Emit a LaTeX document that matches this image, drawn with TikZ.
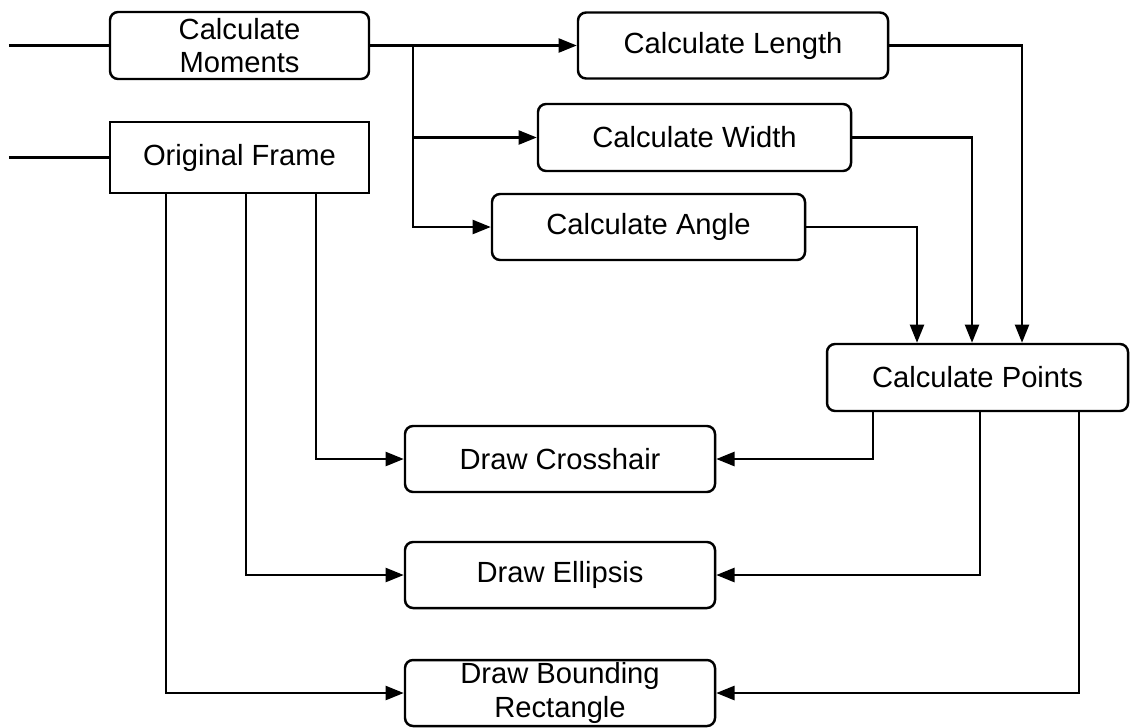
\documentclass[tikz,border=0pt]{standalone}
\usepackage{fontspec}
\setmainfont{Liberation Sans}
\usepackage{tikz}
\usetikzlibrary{positioning, shapes, arrows.meta, calc}

\tikzset{
  procbox/.style={draw, rounded corners=2.3pt, line width=0.7pt, inner sep=0pt,
    minimum width=3.1cm, minimum height=0.66cm, align=center,
    font=\fontsize{8.3pt}{9.6pt}\selectfont},
  flow/.style={line width=0.7pt, -{Triangle[length=5.2pt, width=4pt]}},
  plain/.style={line width=0.7pt}
}

\begin{document}
\begin{tikzpicture}
  \useasboundingbox (0,0) rectangle (11.3,-7.27);
  % Inputs
  \node[procbox, minimum width=2.59cm, minimum height=0.67cm] (moments) at (2.395,-0.455) {Calculate\\Moments};
  \node[procbox, rounded corners=0pt, minimum width=2.59cm, minimum height=0.71cm] (frame) at (2.395,-1.575) {Original Frame};
  \coordinate (inA) at (0.09,-0.455);
  \coordinate (inB) at (0.09,-1.575);
  % Measurements
  \node[procbox] (length) at (7.33,-0.455) {Calculate Length};
  \node[procbox, minimum width=3.13cm, minimum height=0.67cm] (width) at (6.945,-1.375) {Calculate Width};
  \node[procbox, minimum width=3.13cm] (angle) at (6.485,-2.27) {Calculate Angle};
  \node[procbox, minimum width=3.01cm, minimum height=0.67cm] (points) at (9.775,-3.775) {Calculate Points};
  % Drawing steps
  \node[procbox] (cross) at (5.60,-4.59) {Draw Crosshair};
  \node[procbox] (ellipse) at (5.60,-5.75) {Draw Ellipsis};
  \node[procbox] (bound) at (5.60,-6.93) {Draw Bounding\\Rectangle};

  % Input lines
  \draw[plain] (inA) -- (moments);
  \draw[plain] (inB) -- (frame);
  % Moments to measurements
  \coordinate (split) at (4.13,-0.455);
  \draw[flow] (moments.east) -- (length.west);
  \draw[flow] (split) |- (width.west);
  \draw[flow] (split) |- (angle.west);
  % Measurements to points
  \draw[flow] (length.east) -| ([xshift=0.445cm]points.north);
  \draw[flow] (width.east) -| ([xshift=-0.055cm]points.north);
  \draw[flow] (angle.east) -| ([xshift=-0.605cm]points.north);
  % Frame to drawing steps
  \draw[flow] ([xshift=0.765cm]frame.south) |- (cross.west);
  \draw[flow] ([xshift=0.065cm]frame.south) |- (ellipse.west);
  \draw[flow] ([xshift=-0.735cm]frame.south) |- (bound.west);
  % Points to drawing steps
  \draw[flow] ([xshift=-1.045cm]points.south) |- (cross.east);
  \draw[flow] ([xshift=0.025cm]points.south) |- (ellipse.east);
  \draw[flow] ([xshift=1.015cm]points.south) |- (bound.east);
\end{tikzpicture}
\end{document}
